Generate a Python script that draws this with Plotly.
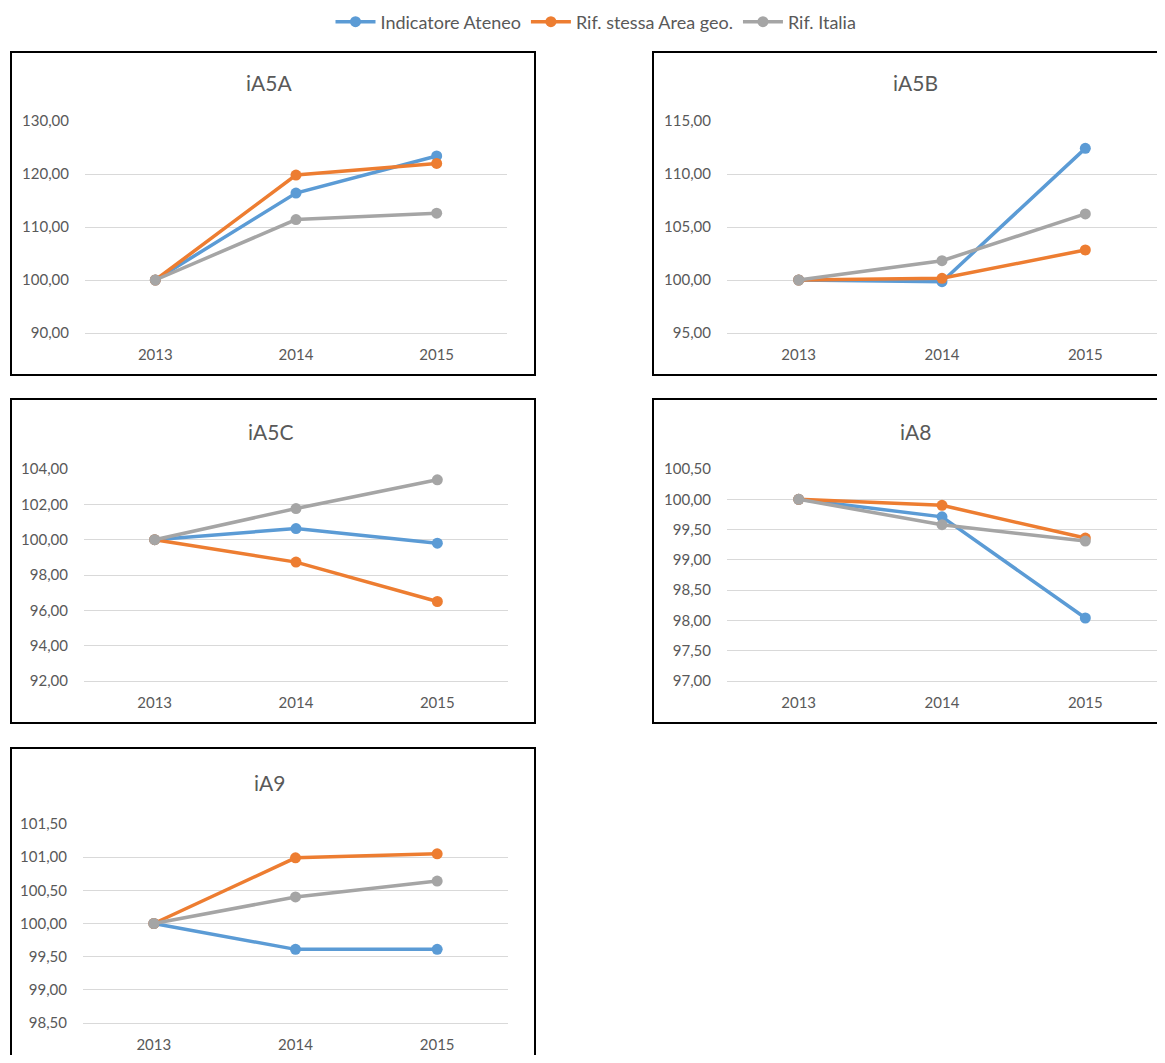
import plotly.graph_objects as go

# ---------------- data ----------------
years = ["2013", "2014", "2015"]
series_names = ["Indicatore Ateneo", "Rif. stessa Area geo.", "Rif. Italia"]
series_colors = ["#5B9BD5", "#ED7D31", "#A5A5A5"]

panel_titles = ["iA5A", "iA5B", "iA5C", "iA8", "iA9"]

iA5A_ateneo = [100.00, 116.40, 123.40]
iA5A_area = [100.00, 119.80, 122.00]
iA5A_italia = [100.00, 111.40, 112.60]

iA5B_ateneo = [100.00, 99.84, 112.42]
iA5B_area = [100.00, 100.16, 102.83]
iA5B_italia = [100.00, 101.82, 106.23]

iA5C_ateneo = [100.00, 100.63, 99.80]
iA5C_area = [100.00, 98.73, 96.50]
iA5C_italia = [100.00, 101.76, 103.39]

iA8_ateneo = [100.00, 99.71, 98.04]
iA8_area = [100.00, 99.90, 99.36]
iA8_italia = [100.00, 99.58, 99.31]

iA9_ateneo = [100.00, 99.61, 99.61]
iA9_area = [100.00, 100.99, 101.05]
iA9_italia = [100.00, 100.40, 100.64]

panel_data = [
    [iA5A_ateneo, iA5A_area, iA5A_italia],
    [iA5B_ateneo, iA5B_area, iA5B_italia],
    [iA5C_ateneo, iA5C_area, iA5C_italia],
    [iA8_ateneo, iA8_area, iA8_italia],
    [iA9_ateneo, iA9_area, iA9_italia],
]

y_min = [90, 95, 92, 97.0, 98.5]
y_max = [130, 115, 104, 100.5, 101.5]
y_step = [10, 5, 2, 0.5, 0.5]

# ---------------- layout geometry (screen px) ----------------
OFF = 8
W, H = 1157, 1047


def fx(sx):
    return (sx - OFF) / W


def fy(sy):
    return 1 - (sy - OFF) / H


plot_boxes = [  # x0, x1, ytop, ybottom of plot area
    (85, 507, 121, 333),
    (727, 1157, 121, 333),
    (84, 508, 469, 681),
    (727, 1157, 469, 681),
    (83, 508, 824, 1023),
]
frame_boxes = [  # x0, x1, ytop, ybottom of chart frame
    (11, 535, 52, 375),
    (653, 1185, 52, 375),
    (11, 535, 399, 723),
    (653, 1185, 399, 723),
    (11, 535, 748, 1090),
]
title_pos = [(269, 83), (915, 83), (270, 431), (915, 431), (269, 782)]

FONT = "Lato"
TXT = "#595959"
GRID = "#D9D9D9"

fig = go.Figure()
layout = dict(
    width=W,
    height=H,
    margin=dict(l=0, r=0, t=0, b=0, autoexpand=False),
    paper_bgcolor="white",
    plot_bgcolor="white",
    separators=",.",
    font=dict(family=FONT, size=15, color=TXT),
    showlegend=True,
    legend=dict(
        orientation="h",
        x=fx(596),
        y=fy(22),
        xanchor="center",
        yanchor="middle",
        font=dict(family=FONT, size=18, color=TXT),
        itemwidth=40,
        bgcolor="rgba(0,0,0,0)",
    ),
    shapes=[],
    annotations=[],
)

for i in range(5):
    ax = "" if i == 0 else str(i + 1)
    x0, x1, yt, yb = plot_boxes[i]
    layout["xaxis" + ax] = dict(
        domain=[fx(x0), fx(x1)],
        anchor="y" + ax,
        type="category",
        range=[-0.5, 2.5],
        automargin=False,
        showgrid=False,
        showline=True,
        linecolor=GRID,
        linewidth=1,
        ticks="outside",
        ticklen=8,
        tickcolor="rgba(0,0,0,0)",
        tickfont=dict(family=FONT, size=15, color=TXT),
        zeroline=False,
        fixedrange=True,
    )
    layout["yaxis" + ax] = dict(
        domain=[fy(yb), fy(yt)],
        anchor="x" + ax,
        range=[y_min[i], y_max[i]],
        tick0=y_min[i],
        dtick=y_step[i],
        tickformat=".2f",
        automargin=False,
        showgrid=True,
        gridcolor=GRID,
        gridwidth=1,
        showline=False,
        zeroline=False,
        ticks="outside",
        ticklen=12,
        tickcolor="rgba(0,0,0,0)",
        tickfont=dict(family=FONT, size=15, color=TXT),
        fixedrange=True,
    )
    fx0, fx1, ft, fb = frame_boxes[i]
    layout["shapes"].append(
        dict(
            type="rect",
            xref="paper",
            yref="paper",
            x0=fx(fx0),
            x1=fx(fx1),
            y0=fy(fb),
            y1=fy(ft),
            line=dict(color="black", width=2),
            fillcolor="rgba(0,0,0,0)",
            layer="above",
        )
    )
    tx, ty = title_pos[i]
    layout["annotations"].append(
        dict(
            text=panel_titles[i],
            xref="paper",
            yref="paper",
            x=fx(tx),
            y=fy(ty),
            xanchor="center",
            yanchor="middle",
            showarrow=False,
            font=dict(family=FONT, size=21, color=TXT),
        )
    )
    for s in range(3):
        fig.add_trace(
            go.Scatter(
                x=years,
                y=panel_data[i][s],
                mode="lines+markers",
                name=series_names[s],
                legendgroup=series_names[s],
                showlegend=(i == 0),
                line=dict(color=series_colors[s], width=3.5),
                marker=dict(color=series_colors[s], size=11),
                xaxis="x" + ax,
                yaxis="y" + ax,
                cliponaxis=False,
            )
        )

fig.update_layout(**layout)
fig.write_html("out.html")
